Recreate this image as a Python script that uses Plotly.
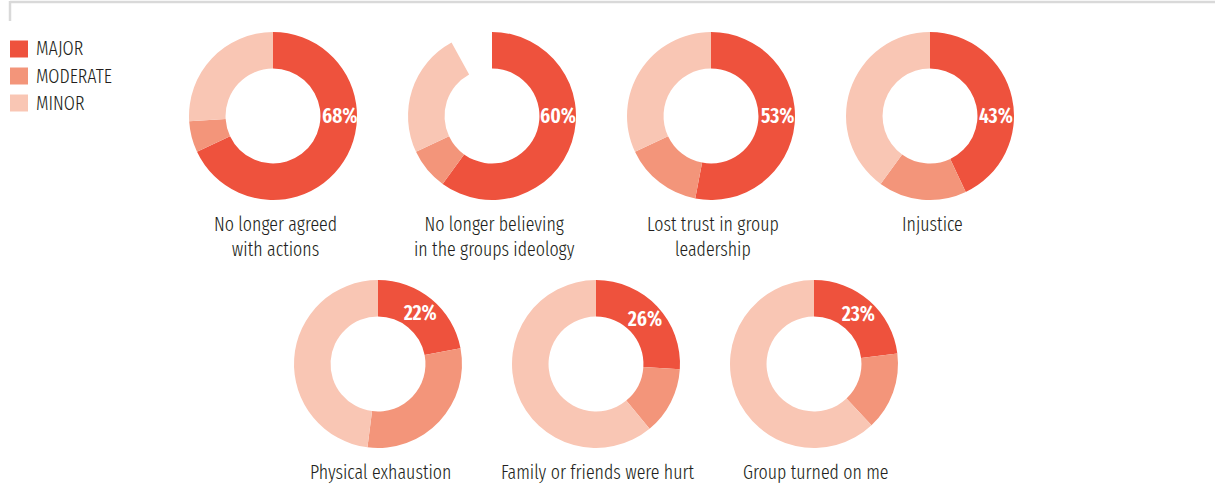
import math
import plotly.graph_objects as go

W, H = 1215, 488

# Reasons for leaving, share of respondents by importance (%)
categories = [
    "No longer agreed<br>with actions",
    "No longer believing<br>in the groups ideology",
    "Lost trust in group<br>leadership",
    "Injustice",
    "Physical exhaustion",
    "Family or friends were hurt",
    "Group turned on me",
]
major = [68, 60, 53, 43, 22, 26, 23]
moderate = [6, 8, 15, 17, 30, 13, 15]
minor = [26, 24, 32, 40, 48, 61, 62]
unanswered = [0, 8, 0, 0, 0, 0, 0]

levels = ["MAJOR", "MODERATE", "MINOR"]
colors = ["#EE523D", "#F3957A", "#F9C6B4"]

# layout in pixels
centers = [(273, 116), (492, 116), (711, 116), (930, 116),
           (378, 364), (596, 364), (814, 364)]
R = 84
HOLE = 0.565
FONT = "Fira Sans Extra Condensed, Fira Sans Condensed, sans-serif"
TEXT = "#231F20"


def px(x):
    return x / W


def py(y):
    return 1 - y / H


fig = go.Figure()
annotations = []

for i, (cx, cy) in enumerate(centers):
    vals = [major[i], moderate[i], minor[i], unanswered[i]]
    fig.add_trace(go.Pie(
        values=vals,
        labels=levels + ["NO ANSWER"],
        marker=dict(colors=colors + ["rgba(0,0,0,0)"], line=dict(width=0)),
        sort=False,
        direction="clockwise",
        rotation=0,
        hole=HOLE,
        textinfo="none",
        hoverinfo="label+percent",
        showlegend=False,
        domain=dict(x=[px(cx - R), px(cx + R)], y=[py(cy + R), py(cy - R)]),
    ))
    # percentage label inside the MAJOR slice (3 o'clock for wide slices)
    mid = major[i] / 100 * 360 / 2
    ang = math.radians(90 if mid > 60 else mid)
    rl = 66
    lx = cx + rl * math.sin(ang)
    ly = cy - rl * math.cos(ang)
    annotations.append(dict(
        x=px(lx), y=py(ly), xref="paper", yref="paper",
        text=f"{major[i]}%", showarrow=False,
        font=dict(family=FONT, size=21, color="white", weight=600),
        xanchor="center", yanchor="middle",
    ))
    # category caption below the ring
    top = cy + R + 10.5
    annotations.append(dict(
        x=px(cx + 2), y=py(top), xref="paper", yref="paper",
        text=categories[i], showarrow=False,
        font=dict(family=FONT, size=19.5, color=TEXT, weight=300),
        xanchor="center", yanchor="top", align="center",
    ))

# legend
shapes = []
for j, (lvl, col) in enumerate(zip(levels, colors)):
    yc = 49 + j * 27
    shapes.append(dict(type="rect", xref="paper", yref="paper",
                       x0=px(10), x1=px(28), y0=py(yc - 8.5), y1=py(yc + 8.5),
                       fillcolor=col, line=dict(width=0)))
    annotations.append(dict(
        x=px(34), y=py(yc), xref="paper", yref="paper",
        text=lvl, showarrow=False, xanchor="left", yanchor="middle",
        font=dict(family=FONT, size=19.5, color=TEXT, weight=300),
    ))

# frame lines at the top
shapes.append(dict(type="line", xref="paper", yref="paper",
                   x0=px(10), x1=1, y0=py(2), y1=py(2),
                   line=dict(color="#D9D9D9", width=2.5)))
shapes.append(dict(type="line", xref="paper", yref="paper",
                   x0=px(10), x1=px(10), y0=py(1), y1=py(21),
                   line=dict(color="#D9D9D9", width=2.5)))

fig.update_layout(
    width=W, height=H,
    margin=dict(l=0, r=0, t=0, b=0),
    paper_bgcolor="white", plot_bgcolor="white",
    annotations=annotations, shapes=shapes,
)

fig.write_html("out.html")
